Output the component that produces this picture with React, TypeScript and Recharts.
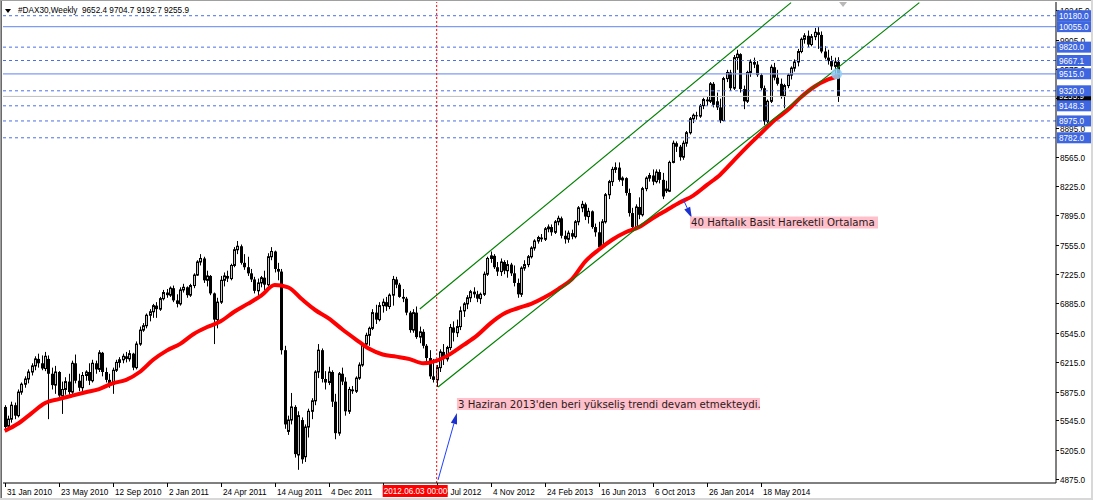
import React from 'react';
import {
  ComposedChart,
  Bar,
  Line,
  XAxis,
  YAxis,
  ReferenceLine,
  ReferenceDot
} from 'recharts';

// #DAX30 weekly bars
const opens = [
  5700, 5480, 5560, 5720, 5600, 5870, 5960, 6020, 6100, 6170,
  6250, 6200, 6140, 6250, 6080, 5950, 6100, 5830, 5900, 5990,
  5870, 6200, 6000, 5920, 6060, 6100, 6000, 6200, 6130, 6320,
  6100, 6010, 5960, 6120, 6210, 6240, 6280, 6250, 6310, 6150,
  6420, 6580, 6630, 6750, 6790, 6860, 6820, 6940, 7010, 6980,
  7060, 6920, 6880, 7040, 7070, 6980, 7090, 7210, 7360, 7400,
  7150, 7200, 7000, 6700, 6900, 7150, 7200, 7170, 7320, 7500,
  7540, 7350, 7300, 7230, 7160, 7030, 7120, 7180, 7100, 7420,
  7480, 7280, 7250, 6350, 5420, 5550, 5700, 5150, 5550, 5130,
  5470, 5650, 5770, 6100, 6350, 6020, 5980, 6100, 5760, 5400,
  6080, 5990, 5650, 5900, 5880, 6030, 6180, 6420, 6520, 6600,
  6780, 6700, 6860, 6900, 6850, 6980, 7160, 7100, 6960, 6940,
  6780, 6580, 6780, 6500, 6560, 6400, 6260, 6050, 6010, 6150,
  6330, 6250, 6380, 6610, 6550, 6620, 6800, 6880, 6950, 7020,
  6990, 6940, 6990, 7220, 7400, 7430, 7300, 7250, 7360, 7260,
  7330, 7230, 7120, 6990, 7290, 7330, 7420, 7520, 7600, 7640,
  7620, 7740, 7760, 7700, 7820, 7860, 7660, 7620, 7690, 7650,
  7820, 7980, 8020, 7880, 7940, 7760, 7700, 7530, 7820, 8130,
  8280, 8420, 8440, 8300, 8320, 8150, 7920, 7760, 7990, 7900,
  8200, 8320, 8350, 8280, 8390, 8300, 8200, 8170, 8500, 8720,
  8680, 8560, 8720, 8840, 9000, 9040, 9030, 9150, 9220, 9200,
  9400, 9200, 9130, 8980, 9460, 9530, 9350, 9700, 9740, 9340,
  9200, 9530, 9650, 9620, 9500, 9350, 8970, 9200, 9590, 9470,
  9400, 9260, 9380, 9500, 9580, 9650, 9770, 9910, 9950, 9850,
  9940, 9990, 9960, 9770, 9700, 9660, 9600, 9652.4
];

const highs = [
  5720, 5600, 5760, 5750, 5900, 5980, 6050, 6130, 6200, 6280,
  6310, 6290, 6330, 6290, 6150, 6170, 6110, 5990, 6040, 6080,
  6230, 6300, 6080, 6100, 6120, 6200, 6240, 6230, 6350, 6330,
  6150, 6080, 6150, 6240, 6270, 6310, 6330, 6350, 6320, 6450,
  6620, 6660, 6770, 6820, 6880, 6900, 6960, 7040, 7050, 7080,
  7090, 6990, 7070, 7110, 7080, 7110, 7230, 7380, 7450, 7420,
  7260, 7210, 7010, 6950, 7200, 7240, 7260, 7340, 7530, 7600,
  7560, 7450, 7420, 7280, 7190, 7170, 7200, 7260, 7460, 7530,
  7490, 7350, 7280, 6400, 5600, 5860, 5720, 5650, 5580, 5500,
  5680, 5800, 6120, 6420, 6370, 6110, 6160, 6120, 5850, 6100,
  6150, 6040, 5930, 5940, 6050, 6210, 6440, 6550, 6620, 6820,
  6870, 6900, 6940, 6960, 7000, 7200, 7190, 7120, 7050, 6960,
  6800, 6820, 6850, 6620, 6590, 6420, 6350, 6250, 6180, 6360,
  6420, 6400, 6650, 6680, 6700, 6850, 6900, 6980, 7040, 7070,
  7030, 7010, 7250, 7420, 7480, 7450, 7360, 7400, 7380, 7380,
  7350, 7320, 7170, 7310, 7380, 7440, 7540, 7620, 7660, 7680,
  7760, 7790, 7790, 7840, 7890, 7880, 7720, 7720, 7730, 7840,
  8000, 8060, 8040, 7980, 7950, 7800, 7820, 7850, 8150, 8300,
  8450, 8500, 8500, 8340, 8330, 8200, 7980, 8020, 8100, 8220,
  8340, 8380, 8420, 8420, 8420, 8380, 8290, 8520, 8750, 8740,
  8700, 8750, 8860, 9020, 9060, 9080, 9170, 9240, 9250, 9420,
  9420, 9300, 9230, 9480, 9560, 9560, 9730, 9790, 9750, 9380,
  9550, 9680, 9700, 9660, 9520, 9380, 9220, 9620, 9640, 9560,
  9460, 9400, 9520, 9600, 9680, 9800, 9930, 9980, 10010, 9970,
  10040, 10050, 10000, 9830, 9790, 9720, 9700, 9704.7
];

const lows = [
  5430, 5440, 5520, 5560, 5580, 5840, 5920, 5970, 6060, 6120,
  6150, 6120, 6110, 5560, 5900, 5850, 5780, 5620, 5840, 5840,
  5850, 5970, 5880, 5850, 6000, 5950, 5980, 6080, 6100, 6050,
  5980, 5920, 5850, 6100, 6150, 6200, 6210, 6220, 6120, 6130,
  6400, 6560, 6600, 6680, 6720, 6720, 6800, 6920, 6950, 6960,
  6900, 6840, 6860, 7010, 6950, 6960, 7060, 7200, 7320, 7120,
  7080, 6980, 6420, 6600, 6880, 7080, 7130, 7150, 7300, 7450,
  7330, 7270, 7200, 7130, 7000, 6960, 7070, 7040, 7080, 7380,
  7240, 7150, 6300, 5450, 5380, 5500, 5120, 4980, 5050, 5070,
  5350, 5560, 5720, 6030, 5980, 5900, 5950, 5700, 5330, 5370,
  5950, 5600, 5620, 5850, 5860, 6010, 6160, 6380, 6400, 6580,
  6650, 6680, 6780, 6800, 6820, 6860, 7060, 6950, 6900, 6750,
  6550, 6550, 6480, 6430, 6370, 6220, 6020, 5980, 5930, 6100,
  6180, 6220, 6350, 6450, 6500, 6580, 6730, 6820, 6900, 6950,
  6900, 6880, 6970, 7200, 7350, 7280, 7200, 7200, 7220, 7180,
  7200, 7080, 6950, 6960, 7260, 7300, 7400, 7490, 7570, 7590,
  7600, 7700, 7660, 7680, 7780, 7630, 7570, 7580, 7620, 7630,
  7780, 7930, 7840, 7800, 7740, 7650, 7500, 7510, 7800, 8080,
  8230, 8380, 8280, 8230, 8120, 7880, 7720, 7740, 7850, 7880,
  8170, 8280, 8240, 8260, 8260, 8080, 8150, 8160, 8490, 8620,
  8520, 8530, 8680, 8820, 8950, 8990, 9010, 9110, 9150, 9180,
  9130, 9100, 8950, 8970, 9420, 9320, 9330, 9560, 9300, 9110,
  9180, 9480, 9580, 9480, 9330, 8930, 8950, 9180, 9440, 9380,
  9230, 9120, 9350, 9450, 9540, 9600, 9750, 9860, 9820, 9830,
  9900, 9800, 9750, 9680, 9620, 9560, 9480, 9192.7
];

const closes = [
  5470, 5560, 5720, 5600, 5870, 5960, 6020, 6100, 6170, 6250,
  6200, 6140, 6280, 6080, 5950, 6100, 5830, 5900, 5990, 5870,
  6200, 6000, 5920, 6060, 6100, 6000, 6200, 6130, 6320, 6100,
  6010, 5960, 6120, 6210, 6240, 6280, 6250, 6310, 6150, 6420,
  6580, 6630, 6750, 6790, 6860, 6820, 6940, 7010, 6980, 7060,
  6920, 6880, 7040, 7070, 6980, 7090, 7210, 7360, 7400, 7150,
  7200, 7000, 6700, 6900, 7150, 7200, 7170, 7320, 7500, 7540,
  7350, 7300, 7230, 7160, 7030, 7120, 7180, 7100, 7420, 7480,
  7280, 7250, 6350, 5500, 5550, 5700, 5160, 5600, 5100, 5470,
  5650, 5770, 6100, 6350, 6020, 5980, 6100, 5760, 5400, 6080,
  5990, 5650, 5900, 5880, 6030, 6180, 6420, 6520, 6600, 6780,
  6700, 6860, 6900, 6850, 6980, 7160, 7100, 6960, 6940, 6780,
  6580, 6780, 6500, 6560, 6400, 6260, 6050, 6010, 6150, 6330,
  6250, 6380, 6610, 6550, 6620, 6800, 6880, 6950, 7020, 6990,
  6940, 6990, 7220, 7400, 7430, 7300, 7250, 7360, 7260, 7330,
  7230, 7120, 6990, 7290, 7330, 7420, 7520, 7600, 7640, 7620,
  7740, 7760, 7700, 7820, 7860, 7660, 7620, 7690, 7650, 7820,
  7980, 8020, 7880, 7940, 7760, 7700, 7530, 7820, 8130, 8280,
  8420, 8440, 8300, 8320, 8150, 7920, 7760, 7990, 7900, 8200,
  8320, 8350, 8280, 8390, 8300, 8110, 8170, 8500, 8720, 8680,
  8560, 8720, 8840, 9000, 9040, 9030, 9150, 9220, 9200, 9400,
  9160, 9130, 8980, 9460, 9530, 9350, 9700, 9740, 9340, 9200,
  9530, 9650, 9620, 9500, 9350, 8970, 9200, 9590, 9470, 9400,
  9260, 9380, 9500, 9580, 9650, 9770, 9910, 9950, 9850, 9940,
  9990, 9960, 9770, 9700, 9660, 9600, 9650, 9255.9
];

// 40 week simple moving average, read every 4th bar
const smaBars = [
  0, 4, 8, 12, 16, 20, 24, 28, 32, 36, 40, 44, 48, 52, 56, 60, 64, 68, 72, 76,
  80, 84, 88, 92, 96, 100, 104, 108, 112, 116, 120, 124, 128, 132, 136, 140,
  144, 148, 152, 156, 160, 164, 168, 172, 176, 180, 184, 188, 192, 196, 200,
  204, 208, 212, 216, 220, 224, 228, 232, 236, 240, 244, 247
];
const sma40 = [
  5426, 5510, 5630, 5745, 5790, 5830, 5868, 5905, 5970, 6010, 6100, 6240, 6345,
  6422, 6536, 6615, 6680, 6790, 6880, 6975, 7095, 7070, 6935, 6810, 6715, 6590,
  6475, 6365, 6300, 6276, 6248, 6200, 6230, 6305, 6410, 6520, 6660, 6770, 6830,
  6880, 6955, 7050, 7160, 7365, 7500, 7615, 7700, 7760, 7860, 7950, 8040, 8120,
  8240, 8360, 8520, 8680, 8830, 8980, 9100, 9250, 9370, 9450, 9490
];

const tickBars = [0, 16, 32, 48, 64, 80, 96, 112, 128, 144, 160, 176, 192, 208, 224];
const tickLabels = [
  '31 Jan 2010', '23 May 2010', '12 Sep 2010', '2 Jan 2011', '24 Apr 2011',
  '14 Aug 2011', '4 Dec 2011', '25 Mar 2012', '15 Jul 2012', '4 Nov 2012',
  '24 Feb 2013', '16 Jun 2013', '6 Oct 2013', '26 Jan 2014', '18 May 2014'
];

const priceTicks = [
  4875, 5205, 5545, 5875, 6215, 6545, 6885, 7225, 7555, 7895, 8225, 8565,
  8895, 9235, 9575, 9905, 10245
];

const levels = [10180, 10055, 9820, 9667.1, 9515, 9320, 9148.3, 8975, 8782];
const solidLevels = [10055, 9515];

const markBar = 128;
const markLabel = '2012.06.03 00:00';

const channelUpper = [{ x: 123, y: 6822 }, { x: 233, y: 10330 }];
const channelLower = [{ x: 128.4, y: 5928 }, { x: 271, y: 10330 }];

const arrowTrend = [{ x: 128.4, y: 4864 }, { x: 134, y: 5631 }];
const arrowSma = [{ x: 201, y: 8081 }, { x: 203.6, y: 7863 }];

const noteTrend = { x: 134, y: 5734, text: "3 Haziran 2013'den beri yükseliş trendi devam etmekteydi." };
const noteSma = { x: 203.05, y: 7812, text: '40 Haftalık Basit Hareketli Ortalama' };

const FONT = '"Liberation Sans", Arial, sans-serif';
const NOTE_FONT = '"DejaVu Sans", Verdana, sans-serif';

const rows = closes.map((c, i) => ({
  i,
  o: opens[i],
  h: highs[i],
  l: lows[i],
  c,
  range: [lows[i], highs[i]],
  sma: null as number | null
}));
smaBars.forEach((b, k) => {
  rows[b].sma = sma40[k];
});

const lastClose = closes[closes.length - 1];

function Candle(props: any) {
  const { x, y, width, height, payload } = props;
  if (!payload || x == null) return null;
  const top = Math.min(y, y + height);
  const span = Math.abs(height);
  const { o, h, l, c } = payload;
  const r = h - l || 1;
  const py = (v: number) => top + ((h - v) / r) * span;
  const cx = Math.round(x + width / 2) + 0.5;
  const bTop = py(Math.max(o, c));
  const bBot = py(Math.min(o, c));
  const bh = Math.max(bBot - bTop, 1);
  return (
    <g>
      <line x1={cx} x2={cx} y1={top} y2={top + span} stroke="#000" strokeWidth={1} />
      {c >= o ? (
        <rect x={cx - 1} y={bTop} width={2} height={bh} fill="#c4c4c4" stroke="#000" strokeWidth={1} />
      ) : (
        <rect x={cx - 1.5} y={bTop} width={3} height={bh} fill="#000" />
      )}
    </g>
  );
}

// axis texts are drawn as labels of invisible reference lines so that the
// level tags and the red date tag can sit on top of them
function DateLabel(props: any) {
  const { viewBox, text } = props;
  if (!viewBox) return null;
  const tx = Math.round(viewBox.x) + 0.5;
  const bottom = viewBox.y + viewBox.height;
  return (
    <g>
      <line x1={tx} x2={tx} y1={bottom} y2={bottom + 4} stroke="#000" />
      <text x={tx + 1.5} y={bottom + 12} fontSize={8.2} fontFamily={FONT} fill="#000">
        {text}
      </text>
    </g>
  );
}

function PriceLabel(props: any) {
  const { viewBox, text } = props;
  if (!viewBox) return null;
  const x = viewBox.x + viewBox.width;
  const y = Math.round(viewBox.y) + 0.5;
  return (
    <g>
      <line x1={x} x2={x + 3} y1={y} y2={y} stroke="#000" />
      <text x={x + 4} y={y + 3} fontSize={8.2} fontFamily={FONT} fill="#000">
        {text}
      </text>
    </g>
  );
}

function LevelTag(props: any) {
  const { viewBox, text, bg } = props;
  if (!viewBox) return null;
  const x = viewBox.x + viewBox.width + 1;
  const y = viewBox.y;
  return (
    <g>
      <rect x={x} y={y - 5.5} width={34} height={11} fill={bg} />
      <text x={x + 2} y={y + 3} fontSize={8.2} fontFamily={FONT} fill="#fff">
        {text}
      </text>
    </g>
  );
}

function DateTag(props: any) {
  const { viewBox, text } = props;
  if (!viewBox) return null;
  const x = viewBox.x;
  const bottom = viewBox.y + viewBox.height;
  return (
    <g>
      <rect x={x - 54} y={bottom + 2} width={65} height={12} fill="#ff0000" />
      <text x={x - 53} y={bottom + 11} fontSize={8.2} fontFamily={FONT} fill="#fff">
        {text}
      </text>
    </g>
  );
}

function Arrow(props: any) {
  const { x1, y1, x2, y2 } = props;
  if (x1 == null) return null;
  const a = Math.atan2(y2 - y1, x2 - x1);
  const len = 11;
  const half = 3.2;
  const bx = x2 - len * Math.cos(a);
  const by = y2 - len * Math.sin(a);
  const px = -Math.sin(a) * half;
  const py = Math.cos(a) * half;
  return (
    <g>
      <line x1={x1} y1={y1} x2={bx} y2={by} stroke="#2040ff" strokeWidth={1} />
      <polygon points={`${x2},${y2} ${bx + px},${by + py} ${bx - px},${by - py}`} fill="#1a30d0" />
    </g>
  );
}

function makeNote(text: string, w: number) {
  return (props: any) => {
    const { cx, cy } = props;
    if (cx == null) return <g />;
    return (
      <g>
        <rect x={cx} y={cy - 6} width={w} height={12} fill="#ffc0cb" />
        <text x={cx + 1} y={cy + 3.8} fontSize={10.2} fontFamily={NOTE_FONT} fill="#2a1a1a">
          {text}
        </text>
      </g>
    );
  };
}

const ShiftMark = (props: any) => {
  const { cx, cy } = props;
  if (cx == null) return <g />;
  return <polygon points={`${cx - 4},${cy - 2} ${cx + 4},${cy - 2} ${cx},${cy + 3}`} fill="#b8b8b8" />;
};

const Halo = (props: any) => {
  const { cx, cy } = props;
  if (cx == null) return <g />;
  return <circle cx={cx} cy={cy} r={5.5} fill="#8fcff5" fillOpacity={0.85} />;
};

export default function App() {
  return (
    <div
      style={{
        position: 'absolute',
        left: 0,
        top: 0,
        width: 1093,
        height: 500,
        background: '#fff',
        overflow: 'hidden'
      }}
    >
      <ComposedChart
        width={1093}
        height={500}
        data={rows}
        margin={{ top: 2, right: 0, bottom: 0, left: 3 }}
      >
        <XAxis
          dataKey="i"
          type="number"
          domain={[-0.5, 311.5]}
          allowDataOverflow
          height={17}
          tick={false}
          tickLine={false}
          axisLine={{ stroke: '#000' }}
        />
        <YAxis
          orientation="right"
          type="number"
          width={37}
          domain={[4829, 10337]}
          allowDataOverflow
          tick={false}
          tickLine={false}
          axisLine={{ stroke: '#000' }}
        />
        {tickBars.map((b, k) => (
          <ReferenceLine key={'t' + b} x={b} stroke="none" label={<DateLabel text={tickLabels[k]} />} />
        ))}
        {priceTicks.map((p) => (
          <ReferenceLine key={'p' + p} y={p} stroke="none" label={<PriceLabel text={p.toFixed(1)} />} />
        ))}
        <ReferenceLine
          y={lastClose}
          stroke="#c0c0c0"
          label={<LevelTag text={lastClose.toFixed(1)} bg="#000" />}
        />
        {levels.map((lv) => {
          const solid = solidLevels.includes(lv);
          return (
            <ReferenceLine
              key={lv}
              y={lv}
              stroke={solid ? '#7f9cf0' : '#4a6fe6'}
              strokeWidth={solid ? 1.3 : 1}
              strokeDasharray={solid ? undefined : '3 3'}
              label={<LevelTag text={lv.toFixed(1)} bg="#3d66e0" />}
            />
          );
        })}
        <ReferenceLine
          x={markBar}
          stroke="#ff0000"
          strokeDasharray="2 2"
          label={<DateTag text={markLabel} />}
        />
        <Bar
          dataKey="range"
          barSize={3}
          shape={(p: any) => <Candle {...p} />}
          isAnimationActive={false}
        />
        <Line
          dataKey="sma"
          type="monotone"
          connectNulls
          stroke="#ff0000"
          strokeWidth={4}
          dot={false}
          activeDot={false}
          isAnimationActive={false}
        />
        <ReferenceLine segment={channelUpper} stroke="#008000" strokeWidth={1.2} />
        <ReferenceLine segment={channelLower} stroke="#008000" strokeWidth={1.2} />
        <ReferenceDot x={246.5} y={9515} r={5} shape={Halo} />
        <ReferenceDot x={248.4} y={10314} r={3} shape={ShiftMark} />
        <ReferenceLine segment={arrowTrend} shape={Arrow} />
        <ReferenceLine segment={arrowSma} shape={Arrow} />
        <ReferenceDot x={noteTrend.x} y={noteTrend.y} r={1} shape={makeNote(noteTrend.text, 303)} />
        <ReferenceDot x={noteSma.x} y={noteSma.y} r={1} shape={makeNote(noteSma.text, 188)} />
      </ComposedChart>
      <div
        style={{
          position: 'absolute',
          left: 5,
          top: 9,
          width: 0,
          height: 0,
          borderLeft: '3px solid transparent',
          borderRight: '3px solid transparent',
          borderTop: '4px solid #000'
        }}
      />
      <div
        style={{
          position: 'absolute',
          left: 18,
          top: 6,
          fontFamily: FONT,
          fontSize: 8.2,
          lineHeight: '10px',
          color: '#000',
          whiteSpace: 'pre'
        }}
      >
        {'#DAX30,Weekly  9652.4 9704.7 9192.7 9255.9'}
      </div>
      <div style={{ position: 'absolute', left: 0, top: 0, width: 1, height: 500, background: '#a0a0a0' }} />
      <div style={{ position: 'absolute', left: 1, top: 0, width: 1, height: 500, background: '#6a6a6a' }} />
      <div style={{ position: 'absolute', left: 0, top: 0, width: 1093, height: 1, background: '#a0a0a0' }} />
      <div style={{ position: 'absolute', left: 0, top: 498, width: 1093, height: 2, background: '#d8d8d8' }} />
      <div style={{ position: 'absolute', left: 1091, top: 0, width: 2, height: 500, background: '#d8d8d8' }} />
    </div>
  );
}
